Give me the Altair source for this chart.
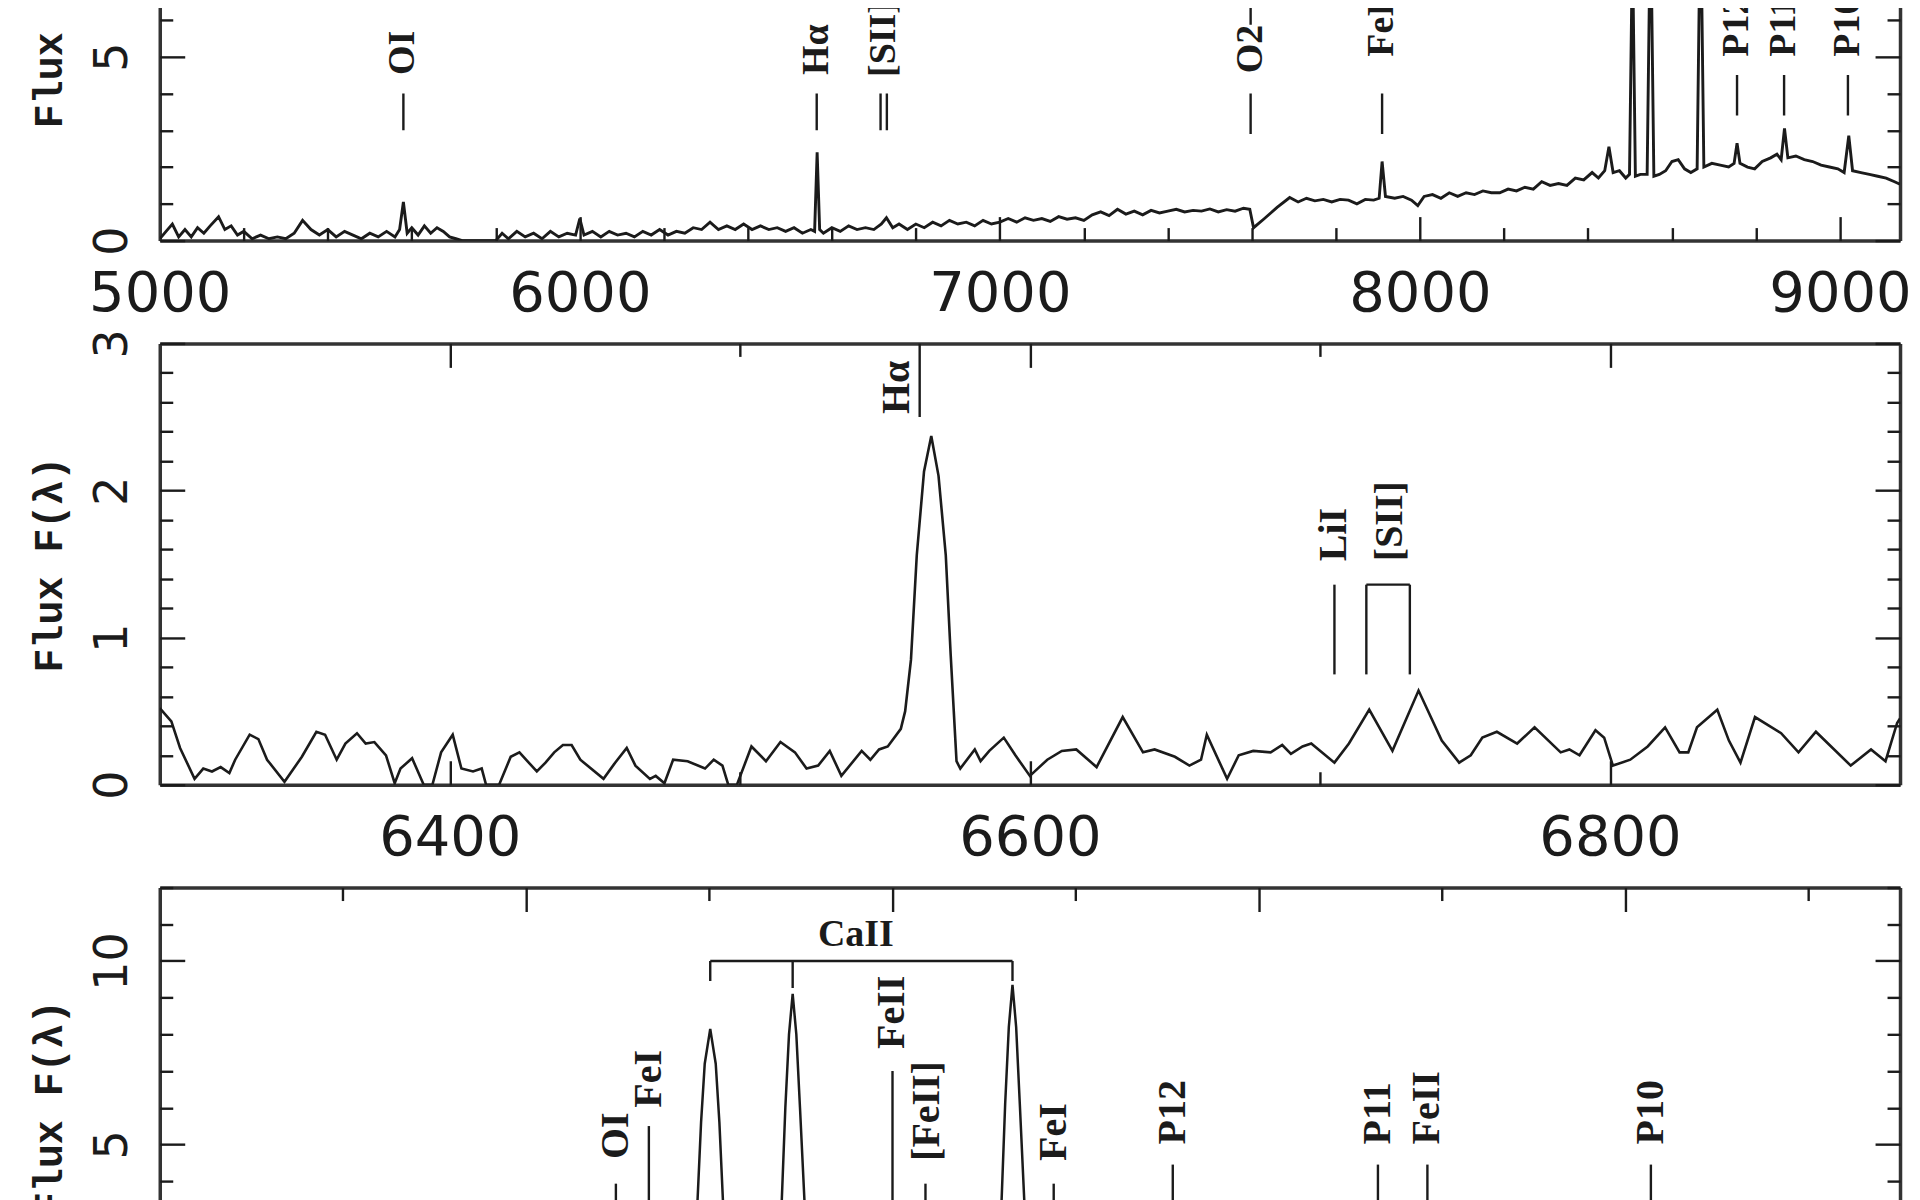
import altair as alt
import pandas as pd

# ---------------- Panel 1 : overview spectrum 5000-9143 A ----------------
top_wl = [
    5000, 5015, 5030, 5045, 5060, 5075, 5090, 5105, 5120, 5140,
    5155, 5170, 5185, 5200, 5220, 5240, 5260, 5280, 5300, 5320,
    5340, 5360, 5380, 5400, 5420, 5440, 5460, 5480, 5500, 5520,
    5540, 5560, 5571, 5580, 5589, 5600, 5615, 5630, 5645, 5660,
    5675, 5690, 5705, 5720, 5760, 5800, 5815, 5830, 5850, 5870,
    5890, 5910, 5930, 5950, 5970, 5990, 6000, 6010, 6030, 6050,
    6070, 6090, 6110, 6130, 6150, 6170, 6190, 6210, 6230, 6250,
    6270, 6290, 6310, 6330, 6350, 6370, 6390, 6410, 6430, 6450,
    6470, 6490, 6510, 6530, 6550, 6559, 6565, 6571, 6580, 6600,
    6620, 6640, 6660, 6680, 6700, 6718, 6730, 6745, 6760, 6780,
    6800, 6820, 6840, 6860, 6880, 6900, 6920, 6940, 6960, 6980,
    7000, 7020, 7040, 7060, 7080, 7100, 7120, 7140, 7160, 7180,
    7200, 7220, 7240, 7260, 7280, 7300, 7320, 7340, 7360, 7380,
    7400, 7420, 7440, 7460, 7480, 7500, 7520, 7540, 7560, 7580,
    7595, 7604, 7630, 7660, 7690, 7710, 7730, 7750, 7770, 7790,
    7810, 7830, 7850, 7870, 7890, 7903, 7910, 7918, 7940, 7960,
    7980, 7995, 8010, 8030, 8050, 8070, 8090, 8110, 8130, 8150,
    8170, 8190, 8210, 8230, 8250, 8270, 8290, 8310, 8330, 8350,
    8370, 8390, 8410, 8425, 8440, 8450, 8460, 8475, 8490, 8499,
    8506, 8513, 8525, 8541, 8549, 8557, 8570, 8585, 8600, 8615,
    8630, 8645, 8660, 8668, 8676, 8695, 8715, 8735, 8748, 8755,
    8762, 8780, 8797, 8815, 8835, 8850, 8860, 8868, 8876, 8895,
    8915, 8935, 8955, 8975, 8995, 9010, 9021, 9030, 9050, 9070,
    9090, 9110, 9130, 9143,
]
top_flux = [
    0.05, 0.25, 0.45, 0.10, 0.30, 0.10, 0.35, 0.20, 0.40, 0.65,
    0.30, 0.40, 0.15, 0.25, 0.05, 0.15, 0.05, 0.10, 0.05, 0.20,
    0.55, 0.30, 0.15, 0.30, 0.10, 0.25, 0.15, 0.05, 0.20, 0.10,
    0.25, 0.10, 0.30, 1.05, 0.20, 0.35, 0.15, 0.40, 0.20, 0.35,
    0.25, 0.10, 0.05, 0.00, 0.00, 0.00, 0.20, 0.05, 0.25, 0.10,
    0.20, 0.05, 0.25, 0.10, 0.20, 0.15, 0.60, 0.15, 0.25, 0.10,
    0.25, 0.15, 0.20, 0.10, 0.25, 0.15, 0.30, 0.15, 0.25, 0.20,
    0.35, 0.30, 0.50, 0.30, 0.40, 0.30, 0.45, 0.30, 0.40, 0.30,
    0.35, 0.25, 0.35, 0.20, 0.30, 0.25, 2.40, 0.30, 0.20, 0.35,
    0.25, 0.40, 0.30, 0.35, 0.30, 0.45, 0.62, 0.35, 0.45, 0.30,
    0.45, 0.35, 0.50, 0.40, 0.55, 0.45, 0.50, 0.40, 0.55, 0.45,
    0.50, 0.60, 0.50, 0.62, 0.55, 0.60, 0.52, 0.65, 0.58, 0.62,
    0.55, 0.70, 0.78, 0.68, 0.85, 0.72, 0.80, 0.70, 0.82, 0.75,
    0.80, 0.85, 0.78, 0.82, 0.80, 0.86, 0.78, 0.84, 0.80, 0.88,
    0.85, 0.35, 0.60, 0.90, 1.17, 1.05, 1.15, 1.08, 1.12, 1.05,
    1.12, 1.10, 1.00, 1.12, 1.10, 1.15, 2.15, 1.20, 1.15, 1.20,
    1.10, 0.95, 1.20, 1.25, 1.15, 1.30, 1.20, 1.30, 1.25, 1.35,
    1.30, 1.30, 1.40, 1.35, 1.45, 1.40, 1.60, 1.50, 1.55, 1.50,
    1.70, 1.65, 1.85, 1.70, 1.90, 2.55, 1.85, 1.90, 1.70, 1.80,
    8.10, 1.75, 1.80, 1.80, 9.10, 1.75, 1.80, 1.90, 2.15, 2.20,
    1.95, 1.85, 1.95, 9.40, 2.00, 2.10, 2.05, 2.00, 2.10, 2.65,
    2.10, 2.00, 1.95, 2.15, 2.25, 2.35, 2.20, 3.05, 2.25, 2.30,
    2.20, 2.15, 2.05, 2.00, 1.95, 1.85, 2.85, 1.90, 1.85, 1.80,
    1.75, 1.70, 1.60, 1.53,
]
top_seg_x1 = [5580, 6564, 6716, 6731, 7597, 7597, 7910, 8755, 8867, 9019]
top_seg_x2 = [5580, 6564, 6716, 6731, 7597, 7597, 7910, 8755, 8867, 9019]
top_seg_y1 = [3.0, 3.0, 3.0, 3.0, 2.9, 5.87, 2.9, 3.4, 3.4, 3.4]
top_seg_y2 = [4.0, 4.0, 4.0, 4.0, 4.0, 7.0, 4.0, 4.5, 4.5, 4.5]
top_lab_text = ["OI", "Hα", "[SII]", "O2", "FeI", "P12", "P11", "P10"]
top_lab_x = [5580, 6564, 6724, 7597, 7910, 8755, 8867, 9019]
top_lab_y = [4.5, 4.5, 4.45, 4.55, 5.0, 5.0, 5.0, 5.0]

# ---------------- Panel 2 : H-alpha region 6300-6900 A ----------------
mid_wl = [
    6300, 6304, 6307, 6312, 6315, 6318, 6321, 6324, 6326, 6331,
    6334, 6337, 6343, 6349, 6354, 6357, 6361, 6364, 6368, 6371,
    6374, 6378, 6381, 6383, 6387, 6391, 6394, 6397, 6401, 6404,
    6408, 6411, 6412.5, 6417, 6421, 6424, 6430, 6433, 6436, 6439,
    6442, 6445, 6453, 6457, 6461, 6464, 6469, 6471, 6474, 6477,
    6482, 6488, 6491, 6494, 6496, 6499, 6504, 6509, 6514, 6519,
    6523, 6527, 6531, 6535, 6542, 6545, 6548, 6551, 6555.5, 6557,
    6559, 6561, 6563.5, 6566, 6568.5, 6571, 6572.7, 6574.7, 6576, 6581,
    6583, 6586, 6591, 6595, 6600, 6606, 6611, 6616, 6623, 6632,
    6639, 6643, 6650, 6655, 6659, 6661, 6668, 6672, 6677, 6683,
    6687, 6690, 6694, 6697, 6705, 6710, 6717, 6725, 6734, 6742,
    6748, 6752, 6756, 6761, 6768, 6774, 6783, 6786, 6789.5, 6795,
    6798, 6801, 6807, 6813, 6819, 6824, 6827, 6830, 6837, 6841,
    6845, 6850, 6859, 6865, 6871, 6883, 6890, 6895, 6899, 6900,
]
mid_flux = [
    0.52, 0.43, 0.25, 0.04, 0.11, 0.09, 0.12, 0.08, 0.17, 0.34,
    0.31, 0.17, 0.02, 0.19, 0.36, 0.34, 0.17, 0.28, 0.35, 0.28,
    0.29, 0.20, 0.01, 0.11, 0.18, 0.00, 0.00, 0.22, 0.34, 0.11,
    0.09, 0.11, 0.00, 0.00, 0.19, 0.22, 0.09, 0.15, 0.22, 0.27,
    0.27, 0.17, 0.04, 0.15, 0.25, 0.13, 0.04, 0.06, 0.01, 0.17,
    0.16, 0.11, 0.17, 0.13, 0.00, 0.00, 0.26, 0.16, 0.29, 0.22,
    0.11, 0.13, 0.23, 0.06, 0.23, 0.17, 0.24, 0.26, 0.38, 0.50,
    0.85, 1.56, 2.13, 2.37, 2.10, 1.56, 0.88, 0.16, 0.11, 0.24,
    0.16, 0.23, 0.32, 0.20, 0.06, 0.17, 0.23, 0.24, 0.12, 0.46,
    0.22, 0.24, 0.19, 0.13, 0.17, 0.34, 0.04, 0.20, 0.23, 0.22,
    0.27, 0.21, 0.26, 0.28, 0.15, 0.28, 0.51, 0.23, 0.64, 0.30,
    0.15, 0.20, 0.32, 0.36, 0.28, 0.39, 0.22, 0.24, 0.20, 0.37,
    0.32, 0.13, 0.17, 0.26, 0.39, 0.22, 0.22, 0.39, 0.51, 0.30,
    0.15, 0.46, 0.35, 0.22, 0.36, 0.13, 0.24, 0.16, 0.42, 0.45,
]
mid_seg_x1 = [6562, 6705, 6716, 6731, 6716]
mid_seg_x2 = [6562, 6705, 6716, 6731, 6731]
mid_seg_y1 = [2.5, 0.75, 0.75, 0.75, 1.36]
mid_seg_y2 = [3.0, 1.36, 1.36, 1.36, 1.36]
mid_lab_text = ["LiI", "[SII]"]
mid_lab_x = [6705, 6724]
mid_lab_y = [1.52, 1.52]
mid_ha_text = ["Hα"]
mid_ha_x = [6562]
mid_ha_y = [2.52]

# ---------------- Panel 3 : Ca II triplet region 8200-9150 A ----------------
bot_wl = [
    8200, 8230, 8260, 8290, 8320, 8350, 8380, 8410, 8430, 8440,
    8446, 8452, 8468, 8480, 8490, 8493.5, 8495.5, 8497.5, 8500.5, 8503.5,
    8505.5, 8507.5, 8511, 8525, 8533, 8539.5, 8541.5, 8543.5, 8545.5, 8547.5,
    8549.5, 8552, 8557, 8575, 8600, 8620, 8640, 8653, 8659.5, 8661.5,
    8663.5, 8665.5, 8667.5, 8669.5, 8672, 8677, 8700, 8730, 8745, 8752,
    8760, 8790, 8830, 8855, 8865, 8875, 8910, 8950, 8990, 9008,
    9017, 9026, 9060, 9100, 9150,
]
bot_flux = [
    1.30, 1.35, 1.45, 1.60, 1.50, 1.50, 1.70, 1.85, 1.75, 1.90,
    2.60, 1.85, 1.90, 1.75, 1.80, 3.40, 5.60, 7.20, 8.15, 7.20,
    5.60, 3.40, 1.75, 1.80, 1.80, 3.40, 6.00, 8.00, 9.10, 8.00,
    6.00, 3.40, 1.80, 1.90, 2.20, 2.00, 1.85, 1.95, 3.40, 6.10,
    8.20, 9.35, 8.20, 6.10, 3.40, 2.05, 2.10, 2.00, 2.10, 2.65,
    2.10, 1.95, 2.25, 2.20, 3.05, 2.25, 2.20, 2.05, 1.95, 1.85,
    2.85, 1.90, 1.80, 1.70, 1.50,
]
bot_seg_x1 = [8500.5, 8500.5, 8545.5, 8665.5, 8449, 8467, 8600, 8618, 8688, 8753, 8865, 8892, 9014]
bot_seg_x2 = [8665.5, 8500.5, 8545.5, 8665.5, 8449, 8467, 8600, 8618, 8688, 8753, 8865, 8892, 9014]
bot_seg_y1 = [10.0, 9.45, 9.26, 9.45, 2.5, 2.5, 2.5, 2.5, 2.5, 2.5, 2.5, 2.5, 2.5]
bot_seg_y2 = [10.0, 10.0, 10.0, 10.0, 3.93, 5.5, 7.0, 3.93, 3.93, 4.45, 4.45, 4.45, 4.45]
bot_lab_text = ["OI", "FeI", "FeII", "[FeII]", "FeI", "P12", "P11", "FeII", "P10"]
bot_lab_x = [8449, 8467, 8600, 8619, 8688, 8753, 8865, 8892, 9014]
bot_lab_y = [4.6, 6.0, 7.6, 4.55, 4.55, 5.0, 5.0, 5.0, 5.0]
bot_ca_text = ["CaII"]
bot_ca_x = [8580]
bot_ca_y = [10.4]

# ---------------- style ----------------
INK = "#1b1b1b"
FRAME = "#333333"
TICK_W = 2.4
DOM_W = 3.5
MAJ = 24
MIN = 13


def ax_layer(ch, orient, vals, xs, ys, other, tick=0, domain=False, labels=False, **extra):
    props = dict(orient=orient, values=vals, grid=False, domain=domain, labels=labels,
                 ticks=tick > 0, tickSize=tick, offset=-tick, tickColor=INK,
                 tickWidth=TICK_W, domainColor=FRAME, domainWidth=DOM_W, title=None)
    props.update(extra)
    df = pd.DataFrame({"v": vals, "o": [other] * len(vals)})
    if ch == "x":
        enc = dict(x=alt.X("v:Q", scale=xs, axis=alt.Axis(**props)),
                   y=alt.Y("o:Q", scale=ys, axis=None))
    else:
        enc = dict(y=alt.Y("v:Q", scale=ys, axis=alt.Axis(**props)),
                   x=alt.X("o:Q", scale=xs, axis=None))
    return alt.Chart(df).mark_point(opacity=0, size=1, clip=True).encode(**enc)


def seg_layer(x1, x2, y1, y2, xs, ys):
    df = pd.DataFrame({"x1": x1, "x2": x2, "y1": y1, "y2": y2})
    return alt.Chart(df).mark_rule(color=INK, strokeWidth=2.4, clip=True).encode(
        x=alt.X("x1:Q", scale=xs, axis=None), x2="x2:Q",
        y=alt.Y("y1:Q", scale=ys, axis=None), y2="y2:Q")


def text_layer(texts, xv, yv, xs, ys, size, angle=270, align="left", baseline="middle", dy=0):
    df = pd.DataFrame({"t": texts, "x": xv, "y": yv})
    return alt.Chart(df).mark_text(angle=angle, align=align, baseline=baseline, dy=dy,
                                   font="Liberation Serif", fontWeight="bold", fontSize=size,
                                   color=INK, clip=True).encode(
        x=alt.X("x:Q", scale=xs, axis=None), y=alt.Y("y:Q", scale=ys, axis=None), text="t:N")


def make_panel(wl, flux, xs, ys, xmid, ymid, w, h, xmaj, xmin, ymaj, ymin,
               xlabels, top_dom, bot_dom, lw, annos):
    df = pd.DataFrame({"wl": wl, "flux": flux})
    line = alt.Chart(df).mark_line(color=INK, strokeWidth=lw, clip=True).encode(
        x=alt.X("wl:Q", scale=xs, axis=None), y=alt.Y("flux:Q", scale=ys, axis=None))
    L = [line] + annos
    L.append(ax_layer("x", "bottom", xmaj, xs, ys, ymid, domain=bot_dom, labels=xlabels,
                      format="d", labelFont="DejaVu Sans", labelFontSize=56, labelColor=INK,
                      labelPadding=26, labelFlush=False, labelOverlap=False))
    L.append(ax_layer("x", "bottom", xmaj, xs, ys, ymid, tick=MAJ))
    L.append(ax_layer("x", "bottom", xmin, xs, ys, ymid, tick=MIN))
    if top_dom:
        L.append(ax_layer("x", "top", xmaj, xs, ys, ymid, domain=True))
    L.append(ax_layer("x", "top", xmaj, xs, ys, ymid, tick=MAJ))
    L.append(ax_layer("x", "top", xmin, xs, ys, ymid, tick=MIN))
    L.append(ax_layer("y", "left", ymaj, xs, ys, xmid, domain=True, labels=True,
                      labelFont="DejaVu Sans", labelFontSize=46, labelColor=INK,
                      labelAngle=270, labelAlign="center", labelBaseline="alphabetic",
                      labelPadding=33, labelFlush=False, labelOverlap=False,
                      title="Flux F(λ)", titleX=-98, titleY=h / 2, titleAngle=270,
                      titleAlign="center", titleBaseline="alphabetic",
                      titleFont="Liberation Mono", titleFontSize=40,
                      titleFontWeight="bold", titleColor=INK))
    L.append(ax_layer("y", "left", ymaj, xs, ys, xmid, tick=MAJ + 1))
    L.append(ax_layer("y", "left", ymin, xs, ys, xmid, tick=MIN))
    L.append(ax_layer("y", "right", ymaj, xs, ys, xmid, domain=True))
    L.append(ax_layer("y", "right", ymaj, xs, ys, xmid, tick=MAJ + 1))
    L.append(ax_layer("y", "right", ymin, xs, ys, xmid, tick=MIN))
    return alt.layer(*L).resolve_axis(x="independent", y="independent").properties(width=w, height=h)


W = 1743

# panel 1
xs1 = alt.Scale(domain=[5000, 9143], nice=False, zero=False)
ys1 = alt.Scale(domain=[0, 12], nice=False, zero=False)
p1 = make_panel(
    top_wl, top_flux, xs1, ys1, 7000, 6, W, 442,
    [5000, 6000, 7000, 8000, 9000],
    [v for v in range(5200, 9143, 200) if v % 1000 != 0],
    [0, 5, 10], [v for v in range(1, 13) if v % 5 != 0],
    True, False, True, 2.9,
    [seg_layer(top_seg_x1, top_seg_x2, top_seg_y1, top_seg_y2, xs1, ys1),
     text_layer(top_lab_text, top_lab_x, top_lab_y, xs1, ys1, 38)])

# panel 2
xs2 = alt.Scale(domain=[6300, 6900], nice=False, zero=False)
ys2 = alt.Scale(domain=[0, 3], nice=False, zero=False)
p2 = make_panel(
    mid_wl, mid_flux, xs2, ys2, 6600, 1.5, W, 442,
    [6400, 6600, 6800], [6500, 6700],
    [0, 1, 2, 3], [round(i * 0.2, 1) for i in range(1, 15) if i % 5 != 0],
    True, True, True, 2.6,
    [seg_layer(mid_seg_x1, mid_seg_x2, mid_seg_y1, mid_seg_y2, xs2, ys2),
     text_layer(mid_lab_text, mid_lab_x, mid_lab_y, xs2, ys2, 40),
     text_layer(mid_ha_text, mid_ha_x, mid_ha_y, xs2, ys2, 40, baseline="bottom", dy=-3)])

# panel 3
xs3 = alt.Scale(domain=[8200, 9150], nice=False, zero=False)
ys3 = alt.Scale(domain=[0, 12], nice=False, zero=False)
p3 = make_panel(
    bot_wl, bot_flux, xs3, ys3, 8600, 6, W, 441,
    [8400, 8600, 8800, 9000], [8300, 8500, 8700, 8900, 9100],
    [0, 5, 10], [v for v in range(1, 13) if v % 5 != 0],
    False, True, False, 2.5,
    [seg_layer(bot_seg_x1, bot_seg_x2, bot_seg_y1, bot_seg_y2, xs3, ys3),
     text_layer(bot_lab_text, bot_lab_x, bot_lab_y, xs3, ys3, 40),
     text_layer(bot_ca_text, bot_ca_x, bot_ca_y, xs3, ys3, 38, angle=0, align="center",
                baseline="alphabetic")])

chart = alt.vconcat(p1, p2, p3, spacing=103, bounds="flush").properties(
    padding={"left": 22, "top": -212, "right": 0, "bottom": -137},
    background="white",
).configure_view(stroke=None)

chart.save("out.html", embed_options={"renderer": "svg", "actions": False})
